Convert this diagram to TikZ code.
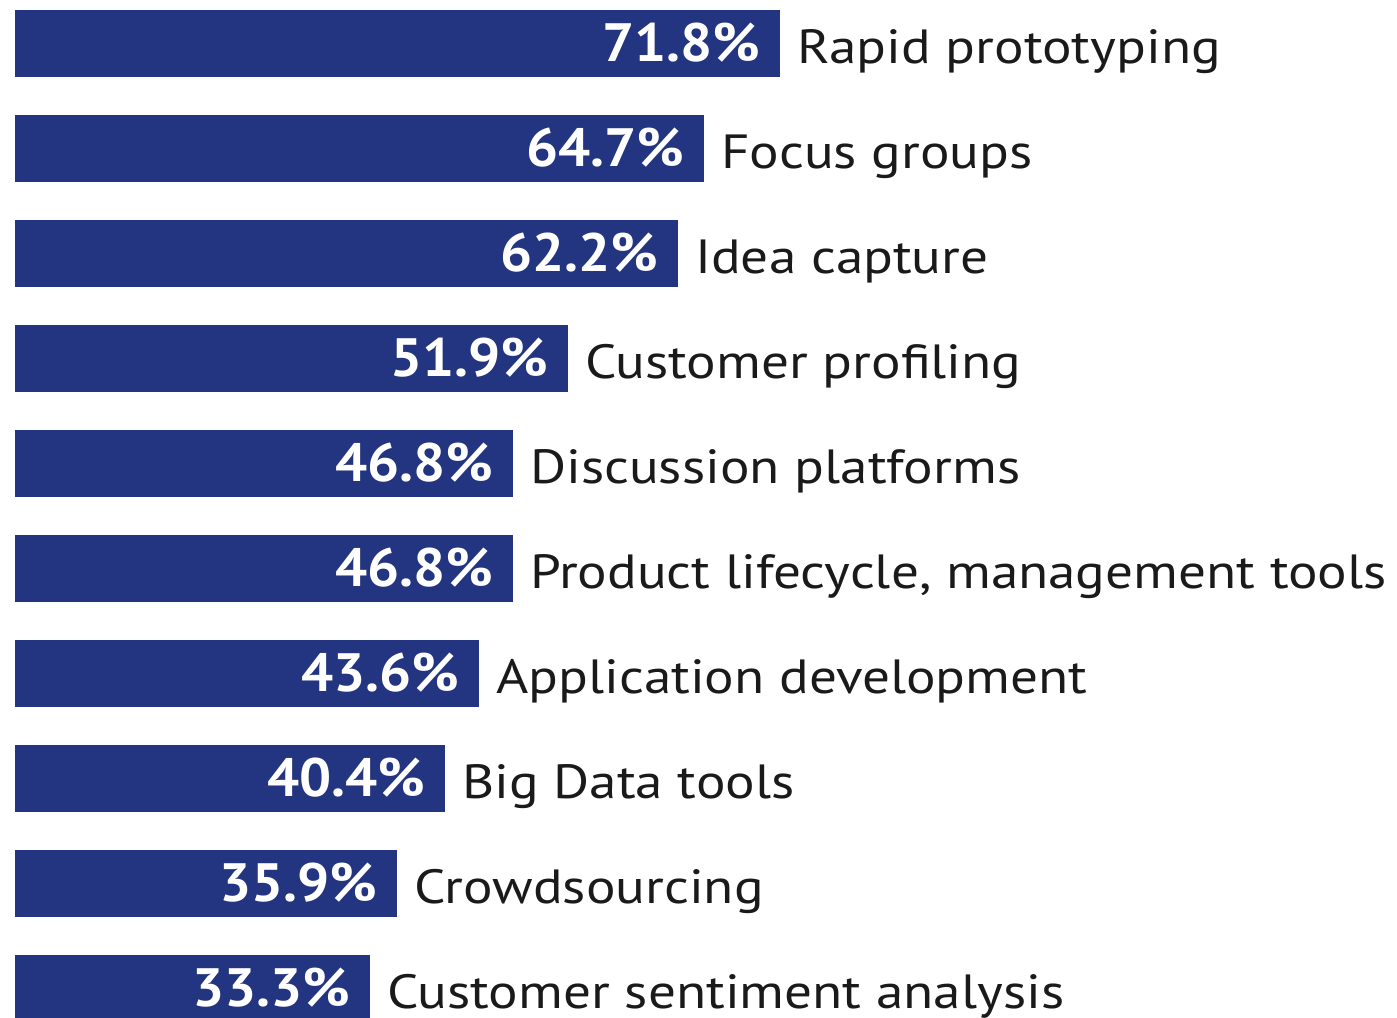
\documentclass[tikz,border=0pt]{standalone}
\usepackage{fontspec}
\setmainfont{PT Sans}
\newfontfamily\lblfont[FakeStretch=1.15]{PT Sans}
\newfontfamily\pctfont[FakeStretch=1.05]{PT Sans}
\definecolor{barblue}{HTML}{233580}
\definecolor{labelgray}{HTML}{1A1A1A}
\begin{document}
\begin{tikzpicture}[x=0.5pt,y=-0.5pt,
  bar/.style={fill=barblue,draw=none,inner sep=0pt,minimum height=33.5pt,anchor=north west},
  pct/.style={text=white,font=\pctfont\fontsize{27}{30}\selectfont\bfseries,anchor=east,inner sep=0pt,xshift=-10pt,yshift=0.5pt},
  lbl/.style={text=labelgray,font=\lblfont\fontsize{24}{28}\selectfont,anchor=base west,inner sep=0pt,xshift=8pt}]
\useasboundingbox (0,0) rectangle (1397,1017);
\foreach \i/\w/\p/\t in {
  0/382.5/71.8\%/Rapid prototyping,
  1/344.5/64.7\%/Focus groups,
  2/331.5/62.2\%/Idea capture,
  3/276.5/51.9\%/Customer profiling,
  4/249/46.8\%/Discussion platforms,
  5/249/46.8\%/{Product lifecycle, management tools},
  6/232/43.6\%/Application development,
  7/215/40.4\%/Big Data tools,
  8/191/35.9\%/Crowdsourcing,
  9/177.5/33.3\%/Customer sentiment analysis}{
  \node[bar,minimum width=\w pt] (b\i) at (15,10+105*\i) {};
  \node[pct] (p\i) at (b\i.east) {\p};
  \node[lbl] (l\i) at ([yshift=-10pt]b\i.east) {\t};
}
\end{tikzpicture}
\end{document}
